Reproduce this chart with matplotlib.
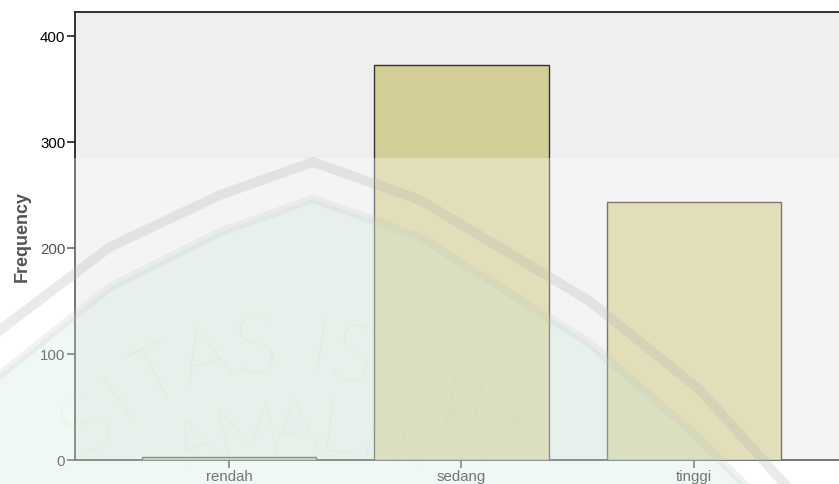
import numpy as np
import matplotlib
matplotlib.use("Agg")
import matplotlib.pyplot as plt
from matplotlib.patches import Rectangle, Polygon
from matplotlib.lines import Line2D

# ---- data ----
categories = ["rendah", "sedang", "tinggi"]
frequencies = [3, 373, 244]
y_ticks = [0, 100, 200, 300, 400]
y_label = "Frequency"

W, H = 839, 484
fig = plt.figure(figsize=(W / 100, H / 100), dpi=100)
fig.patch.set_facecolor("white")

ax = fig.add_axes([75 / W, 24 / H, (W - 75) / W, (460 - 12) / H])
ax.set_facecolor("#efefef")

x = np.arange(len(categories))
ax.bar(x, frequencies, width=0.75, color="#d3ce98", edgecolor="#333333",
       linewidth=1.0, zorder=3)

ax.set_xlim(-0.662, 2.624)
ax.set_ylim(0, 423)
ax.set_xticks(x)
ax.set_xticklabels(categories, fontsize=10.8, family="Liberation Sans")
ax.set_yticks(y_ticks)
ax.set_yticklabels([str(v) for v in y_ticks], fontsize=10.8, family="Liberation Sans")
ax.tick_params(axis="both", direction="out", length=6, width=1.2, color="#222222",
               pad=1)
ax.set_ylabel(y_label, fontsize=13, fontweight="bold", family="Liberation Sans")
ax.yaxis.set_label_coords(-0.058, 0.5)

for side in ["left", "bottom", "top"]:
    ax.spines[side].set_color("#222222")
    ax.spines[side].set_linewidth(1.3)
ax.spines["right"].set_visible(False)


# ---- watermark (decoration, figure pixel coordinates, y from top) ----
def px(pts):
    return [(a / W, 1 - b / H) for a, b in pts]


outer_arch = [(-10, 338), (0, 330), (110, 247), (220, 195), (313, 162), (420, 200),
              (588, 300), (700, 390), (790, 490)]
inner_arch = [(-10, 383), (0, 375), (110, 287), (220, 232), (313, 199), (420, 237),
              (588, 342), (690, 430), (750, 490)]

green_poly = inner_arch + [(750, 500), (-10, 500)]
fig.add_artist(Polygon(px(green_poly), closed=True, transform=fig.transFigure,
                       facecolor="#a8d8bc", edgecolor="none", alpha=0.25, zorder=20))

ox, oy = zip(*px(outer_arch))
fig.add_artist(Line2D(ox, oy, transform=fig.transFigure, color="#909090",
                      alpha=0.28, linewidth=7, solid_joinstyle="round", zorder=21))
ix, iy = zip(*px(inner_arch))
fig.add_artist(Line2D(ix, iy, transform=fig.transFigure, color="#a0a0a0",
                      alpha=0.18, linewidth=6, solid_joinstyle="round", zorder=21))


def arc_text(chars, angles, cx, cy, r, size):
    for ch, ang in zip(chars, angles):
        a = np.deg2rad(ang)
        xx, yy = cx + r * np.cos(a), cy - r * np.sin(a)
        fig.text(xx / W, 1 - yy / H, ch, rotation=ang - 90, ha="center",
                 va="center", fontsize=size, color="#e09080", alpha=0.18,
                 family=["Lato", "DejaVu Sans"], fontweight="light", zorder=22)


arc_text("SITASISLAM", [133, 124.6, 116, 105.5, 95, 82, 75, 65, 56, 46],
         280, 630, 280, 58)
arc_text("A", [112], 300, 705, 280, 44)
arc_text("MALI", [101, 91, 82, 75], 300, 700, 270, 54)
arc_text("K", [67], 300, 705, 278, 42)

# white translucent overlay over lower part of image
fig.add_artist(Rectangle((0, 0), 1, (H - 158) / H, transform=fig.transFigure,
                         facecolor="white", edgecolor="none", alpha=0.33, zorder=30))

fig.savefig("out.png", dpi=100)
